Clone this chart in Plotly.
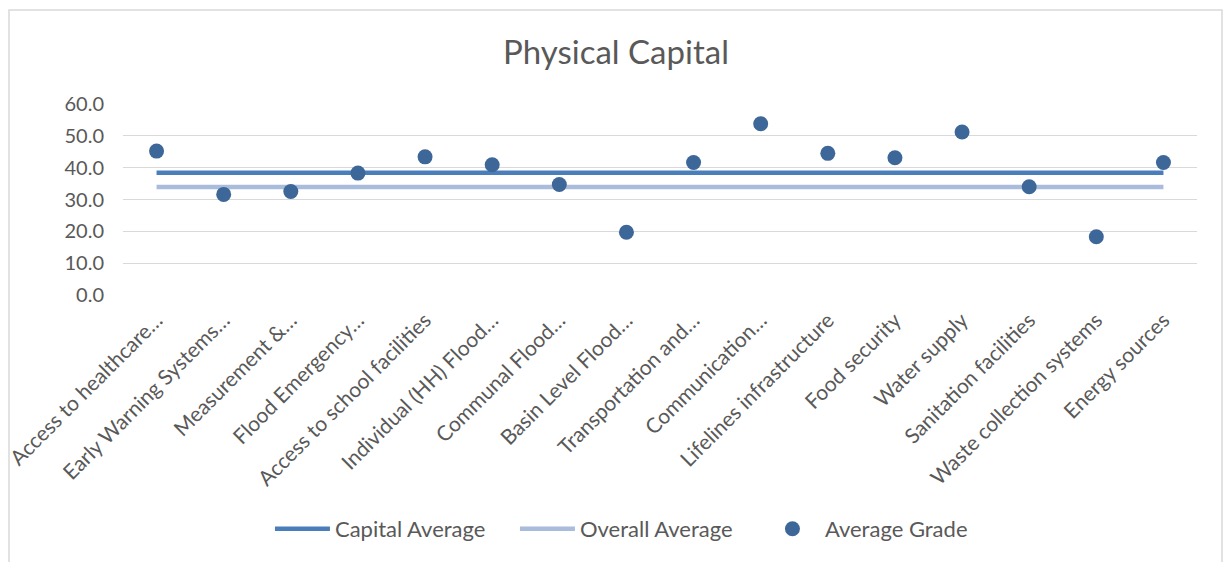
import plotly.graph_objects as go

categories = [
    "Access to healthcare…",
    "Early Warning Systems…",
    "Measurement &…",
    "Flood Emergency…",
    "Access to school facilities",
    "Individual (HH) Flood…",
    "Communal Flood…",
    "Basin Level Flood…",
    "Transportation and…",
    "Communication…",
    "Lifelines infrastructure",
    "Food security",
    "Water supply",
    "Sanitation facilities",
    "Waste collection systems",
    "Energy sources",
]
average_grade = [45.2, 31.6, 32.5, 38.3, 43.4, 40.9, 34.7, 19.7,
                 41.6, 53.8, 44.5, 43.1, 51.2, 34.0, 18.3, 41.6]
capital_average = 38.4
overall_average = 33.9
y_ticks = [0, 10, 20, 30, 40, 50, 60]

FONT = "Lato"
GREY = "#595959"

fig = go.Figure()
fig.add_trace(go.Scatter(
    x=categories, y=[capital_average] * len(categories), mode="lines",
    name="Capital Average", line=dict(color="#4a7ebb", width=4.5),
))
fig.add_trace(go.Scatter(
    x=categories, y=[overall_average] * len(categories), mode="lines",
    name="Overall Average", line=dict(color="#aabcdb", width=4.5),
))
fig.add_trace(go.Scatter(
    x=categories, y=average_grade, mode="markers",
    name="Average Grade", marker=dict(color="#3d6699", size=15),
))

fig.update_layout(
    width=1232, height=562,
    margin=dict(l=123, r=35, t=104, b=267, autoexpand=False),
    paper_bgcolor="white", plot_bgcolor="white",
    font=dict(family=FONT, color=GREY, size=20),
    title=dict(text="Physical Capital", x=0.5, xanchor="center",
               y=1 - 52 / 562, yanchor="middle",
               font=dict(family=FONT, size=33, color=GREY)),
    showlegend=True,
    legend=dict(orientation="h", x=0.479, xanchor="center",
                y=(295 - 529) / 191, yanchor="middle",
                font=dict(family=FONT, size=22, color=GREY),
                itemwidth=55, entrywidth=175, tracegroupgap=0),
    xaxis=dict(type="category", range=[-0.5, len(categories) - 0.5],
               tickangle=-45, showgrid=False, zeroline=False,
               showline=False, ticks="", automargin=False,
               ticklabelstandoff=8,
               tickfont=dict(family=FONT, size=21, color=GREY)),
    yaxis=dict(range=[0, 60], tickvals=y_ticks,
               ticktext=[f"{v:.1f}" for v in y_ticks],
               showgrid=True, gridcolor="#d9d9d9", gridwidth=1,
               zeroline=False, showline=False, ticks="", automargin=False,
               ticklabelstandoff=18,
               tickfont=dict(family=FONT, size=20, color=GREY)),
    shapes=[dict(type="rect", xref="paper", yref="paper",
                 x0=(9 - 123) / 1074, x1=(1222 - 123) / 1074,
                 y0=(295 - 575) / 191, y1=(295 - 10) / 191,
                 line=dict(color="#d9d9d9", width=1.5), layer="below")],
)

fig.write_html("out.html")
